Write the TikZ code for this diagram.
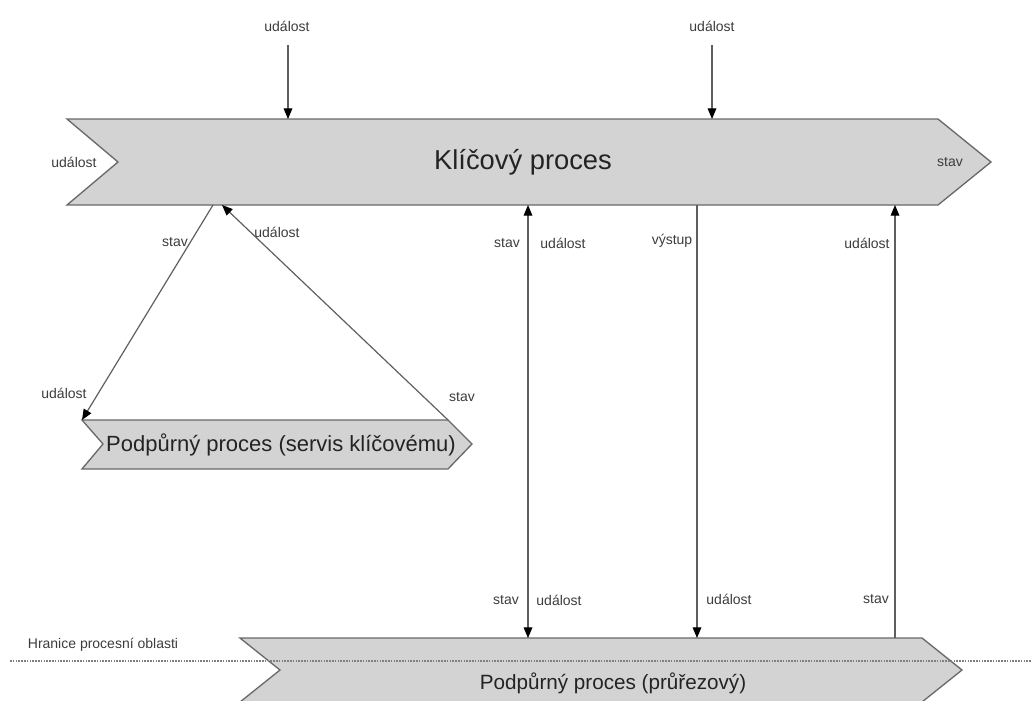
\documentclass[tikz,border=0pt]{standalone}
\usepackage{fontspec}
\setmainfont{Liberation Sans}
\usetikzlibrary{arrows.meta}
\definecolor{procfill}{RGB}{211,211,211}
\definecolor{procline}{RGB}{105,105,105}
\definecolor{flowline}{RGB}{95,95,95}
\definecolor{labeltext}{RGB}{60,60,60}
\definecolor{titletext}{RGB}{35,35,35}
\tikzset{
  process/.style={fill=procfill, draw=procline, line width=1pt, line join=miter},
  flow/.style={draw=flowline, line width=0.9pt},
  arr/.style={-{Triangle[length=8pt,width=6.5pt,black]}},
  biarr/.style={{Triangle[length=8pt,width=6.5pt,black]}-{Triangle[length=8pt,width=6.5pt,black]}},
  lbl/.style={font=\fontsize{10.5}{12}\selectfont, text=labeltext, inner sep=0pt},
  title/.style={text=titletext, inner sep=0pt},
  boundary/.style={draw=gray, line width=0.8pt, dash pattern=on 1.2pt off 0.9pt},
}
\begin{document}
\begin{tikzpicture}[x=0.75pt,y=-0.75pt]
\useasboundingbox (0,0) rectangle (1031,700);

% process shapes
\draw[process] (67,119) -- (938,119) -- (991,162) -- (938,205) -- (67,205) -- (118,162) -- cycle;
\draw[process] (82,420) -- (448,420) -- (472,444) -- (448,469) -- (82,469) -- (103,444) -- cycle;
\draw[process] (240,638) -- (922,638) -- (962,670) -- (922,702) -- (240,702) -- (280,670) -- cycle;

% process-area boundary
\draw[boundary] (10,661) -- (1031,661);

% process titles
\node[title, font=\fontsize{20.5}{24}\selectfont] (kp) at (523,162) {Klíčový proces};
\node[title, font=\fontsize{16.5}{20}\selectfont] (sv) at (281,445) {Podpůrný proces (servis klíčovému)};
\node[title, font=\fontsize{15.5}{19}\selectfont] (pr) at (613,683) {Podpůrný proces (průřezový)};

% connector end points on the shape edges
\coordinate (ev1) at (288,45);
\coordinate (kpin1) at (288,119);
\coordinate (ev2) at (712,45);
\coordinate (kpin2) at (712,119);
\coordinate (kps) at (213,205);
\coordinate (sve) at (82,420);
\coordinate (svs) at (448,420);
\coordinate (kpe) at (222,205);
\coordinate (kpx1) at (528,205);
\coordinate (prx1) at (528,638);
\coordinate (kpx2) at (697,205);
\coordinate (prx2) at (697,638);
\coordinate (kpx3) at (895,205);
\coordinate (prx3) at (895,638);

% connectors
\draw[flow, arr] (ev1) -- (kpin1);
\draw[flow, arr] (ev2) -- (kpin2);
\draw[flow, arr] (kps) -- (sve);
\draw[flow, arr] (svs) -- (kpe);
\draw[flow, biarr] (kpx1) -- (prx1);
\draw[flow, arr] (kpx2) -- (prx2);
\draw[flow, arr] (prx3) -- (kpx3);

% labels
\node[lbl] (l1) at (287,26) {událost};
\node[lbl] (l2) at (712,26) {událost};
\node[lbl] (l3) at (74,162) {událost};
\node[lbl] (l4) at (950,162) {stav};
\node[lbl] (l5) at (175,242) {stav};
\node[lbl] (l6) at (277,232) {událost};
\node[lbl] (l7) at (64,393) {událost};
\node[lbl] (l8) at (462,397) {stav};
\node[lbl] (l9) at (507,243) {stav};
\node[lbl] (l10) at (563,243) {událost};
\node[lbl] (l11) at (672,241) {výstup};
\node[lbl] (l12) at (867,243) {událost};
\node[lbl] (l13) at (506,600) {stav};
\node[lbl] (l14) at (559,600) {událost};
\node[lbl] (l15) at (729,599) {událost};
\node[lbl] (l16) at (876,599) {stav};
\node[lbl] (l17) at (103,645) {Hranice procesní oblasti};
\end{tikzpicture}
\end{document}
